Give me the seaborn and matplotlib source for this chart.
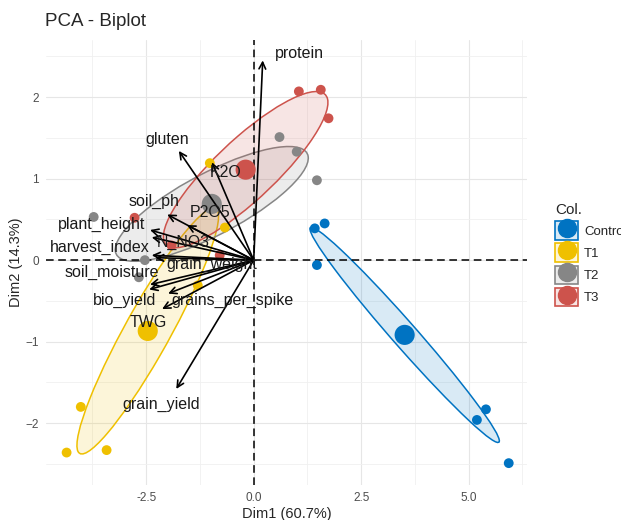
#!/usr/bin/env python3
# PCA biplot: individuals coloured by group, confidence ellipses, variable arrows

import matplotlib

matplotlib.use("Agg")
import matplotlib.pyplot as plt
import numpy as np
import pandas as pd
import seaborn as sns
from matplotlib.legend_handler import HandlerTuple
from matplotlib.lines import Line2D
from matplotlib.patches import Ellipse, Patch
from matplotlib.ticker import MultipleLocator

# individuals (Dim1, Dim2) per group
groups = ["Control", "T1", "T2", "T3"]
colors = ["#0073C2", "#EFC000", "#868686", "#CD534C"]

control_x = [1.42, 1.65, 1.47, 5.40, 5.19, 5.93]
control_y = [0.39, 0.45, -0.06, -1.83, -1.96, -2.49]
t1_x = [-4.02, -4.35, -3.42, -0.67, -1.30, -1.02]
t1_y = [-1.80, -2.36, -2.33, 0.40, -0.31, 1.19]
t2_x = [-3.72, -2.53, -2.67, 0.60, 1.00, 1.47]
t2_y = [0.53, 0.00, -0.21, 1.51, 1.33, 0.98]
t3_x = [1.05, 1.56, 1.74, -2.77, -1.91, -0.79]
t3_y = [2.07, 2.09, 1.74, 0.52, 0.18, 0.06]

# variable arrows (tip coords) and label positions
var_names = ["protein", "gluten", "K2O", "P2O5", "soil_ph", "plant_height",
             "N_NO3", "harvest_index", "grain_weight", "soil_moisture",
             "bio_yield", "grains_per_spike", "TWG", "grain_yield"]
var_x = [0.21, -1.74, -0.97, -1.55, -2.01, -2.41, -2.37, -2.37, -2.29,
         -2.41, -2.43, -1.99, -2.13, -1.80]
var_y = [2.45, 1.34, 1.20, 0.43, 0.56, 0.37, 0.28, 0.06, 0.03,
         -0.30, -0.36, -0.41, -0.60, -1.58]
lab_x = [1.07, -2.02, -0.66, -1.01, -2.31, -3.54, -1.64, -3.57, -0.97,
         -3.29, -2.99, -0.50, -2.45, -2.15]
lab_y = [2.54, 1.48, 1.07, 0.58, 0.72, 0.44, 0.22, 0.16, -0.05,
         -0.15, -0.50, -0.50, -0.76, -1.77]

df = pd.DataFrame({
    "Dim1": control_x + t1_x + t2_x + t3_x,
    "Dim2": control_y + t1_y + t2_y + t3_y,
    "Col.": [g for g in groups for _ in range(6)],
})
means = df.groupby("Col.", sort=False)[["Dim1", "Dim2"]].mean().reset_index()
palette = dict(zip(groups, colors))

sns.set_style("whitegrid")
plt.rcParams["font.family"] = ["Liberation Sans", "DejaVu Sans"]

fig = plt.figure(figsize=(6.21, 5.2), dpi=100)
ax = fig.add_axes([0.074, 0.067, 0.775, 0.856])

# ellipses from each group's covariance
for g in groups:
    sub = df[df["Col."] == g]
    cov = np.cov(sub["Dim1"], sub["Dim2"])
    vals, vecs = np.linalg.eigh(cov)
    order = vals.argsort()[::-1]
    vals, vecs = vals[order], vecs[:, order]
    angle = np.degrees(np.arctan2(vecs[1, 0], vecs[0, 0]))
    w, h = 2 * np.sqrt(vals)
    c = palette[g]
    center = (sub["Dim1"].mean(), sub["Dim2"].mean())
    ax.add_patch(Ellipse(center, w, h, angle=angle, facecolor=c, alpha=0.15,
                         lw=0, zorder=2))
    ax.add_patch(Ellipse(center, w, h, angle=angle, facecolor="none",
                         edgecolor=c, lw=1.1, zorder=2))

ax.axhline(0, color="black", ls=(0, (5, 3)), lw=1.1, zorder=3)
ax.axvline(0, color="black", ls=(0, (5, 3)), lw=1.1, zorder=3)

sns.scatterplot(data=df, x="Dim1", y="Dim2", hue="Col.", palette=palette,
                s=50, linewidth=0, legend=False, ax=ax, zorder=4)
sns.scatterplot(data=means, x="Dim1", y="Dim2", hue="Col.", palette=palette,
                s=210, linewidth=0, legend=False, ax=ax, zorder=5)

for name, vx, vy, lx, ly in zip(var_names, var_x, var_y, lab_x, lab_y):
    ax.annotate("", xy=(vx, vy), xytext=(0, 0),
                arrowprops=dict(arrowstyle="->", color="black", lw=1.2,
                                mutation_scale=12, shrinkA=0, shrinkB=0),
                zorder=6)
    ax.text(lx, ly, name, ha="center", va="center", fontsize=11.5,
            color="#1a1a1a", zorder=7)

ax.set_xlim(-4.83, 6.36)
ax.set_ylim(-2.76, 2.70)
ax.set_xticks([-2.5, 0, 2.5, 5.0])
ax.set_xticklabels(["-2.5", "0.0", "2.5", "5.0"])
ax.set_yticks([-2, -1, 0, 1, 2])
ax.xaxis.set_minor_locator(MultipleLocator(1.25))
ax.yaxis.set_minor_locator(MultipleLocator(0.5))
ax.grid(which="major", color="#e6e6e6", lw=0.8)
ax.grid(which="minor", color="#f0f0f0", lw=0.6)
ax.set_axisbelow(True)
for s in ax.spines.values():
    s.set_visible(False)
ax.tick_params(axis="both", which="major", length=3, width=0.8,
               color="#4d4d4d", labelsize=8.5, labelcolor="#4d4d4d", pad=2)
ax.tick_params(which="minor", length=0)
ax.set_xlabel("Dim1 (60.7%)", fontsize=10.5, labelpad=2)
ax.set_ylabel("Dim2 (14.3%)", fontsize=10.5, labelpad=2)
ax.set_title("PCA - Biplot", fontsize=13.5, loc="left", x=-0.003, pad=10)

# legend keys: light box with coloured border plus a big dot on top
handles = [
    (Patch(facecolor=(*matplotlib.colors.to_rgb(c), 0.15), edgecolor=c, lw=1.2),
     Line2D([], [], marker="o", color=c, ls="none", markersize=13))
    for c in colors
]
ax.legend(handles, groups, title="Col.", loc="upper left",
          bbox_to_anchor=(1.047, 0.645), frameon=False, fontsize=9.5,
          title_fontsize=11, handlelength=1.75, handleheight=1.75,
          labelspacing=0.3, handletextpad=0.45, borderaxespad=0,
          alignment="left",
          handler_map={tuple: HandlerTuple(ndivide=1, pad=0)})

plt.savefig("out.png", dpi=100)
